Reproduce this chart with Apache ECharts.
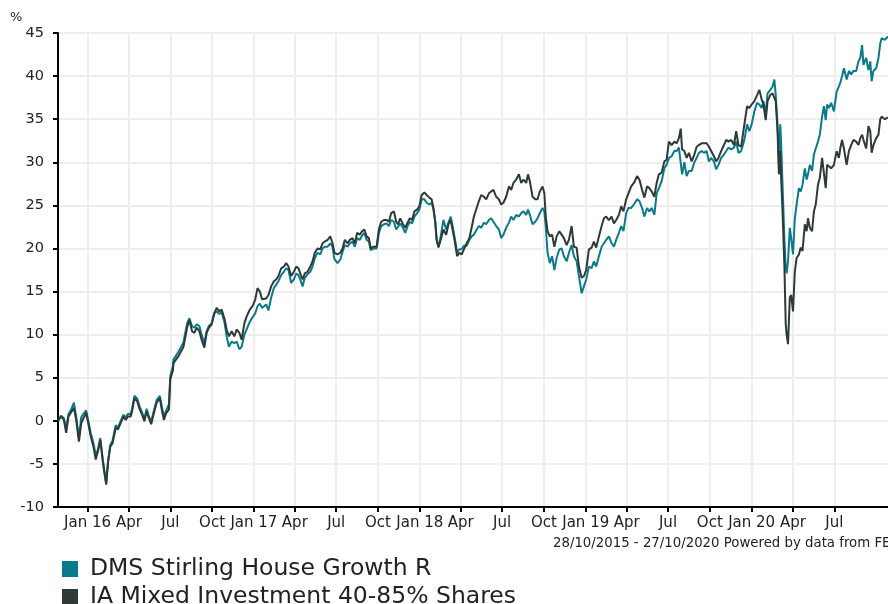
<!DOCTYPE html>
<html><head><meta charset="utf-8">
<script src="https://cdn.jsdelivr.net/npm/echarts@6/dist/echarts.min.js"></script>
<style>html,body{margin:0;padding:0;background:#fff}#c{width:888px;height:604px}</style>
</head><body><div id="c"></div>
<script>
const dates = [
'2015-10-28','2015-11-04','2015-11-10','2015-11-15','2015-11-20','2015-11-26','2015-12-02','2015-12-07','2015-12-13','2015-12-18','2015-12-23','2015-12-29',
'2016-01-03','2016-01-08','2016-01-14','2016-01-19','2016-01-24','2016-01-29','2016-02-03','2016-02-07','2016-02-11','2016-02-15','2016-02-20','2016-02-25',
'2016-03-03','2016-03-08','2016-03-14','2016-03-20','2016-03-25','2016-03-30','2016-04-05','2016-04-08','2016-04-13','2016-04-19','2016-04-25','2016-04-30',
'2016-05-05','2016-05-10','2016-05-15','2016-05-20','2016-05-26','2016-06-01','2016-06-08','2016-06-13','2016-06-17','2016-06-22','2016-06-28','2016-07-01','2016-07-07',
'2016-07-08','2016-07-19','2016-07-30','2016-08-07','2016-08-12','2016-08-18','2016-08-23','2016-08-28','2016-09-03','2016-09-08','2016-09-14','2016-09-19','2016-09-24','2016-09-30',
'2016-10-06','2016-10-11','2016-10-17','2016-10-22','2016-10-28','2016-11-02','2016-11-07','2016-11-13','2016-11-19','2016-11-24','2016-11-30','2016-12-05','2016-12-11','2016-12-16','2016-12-23','2016-12-30',
'2017-01-04','2017-01-09','2017-01-14','2017-01-19','2017-01-23','2017-01-28','2017-02-02','2017-02-08','2017-02-14','2017-02-19','2017-02-24','2017-03-02','2017-03-08','2017-03-13','2017-03-18','2017-03-24','2017-03-30',
'2017-04-04','2017-04-09','2017-04-13','2017-04-18','2017-04-23','2017-04-29','2017-05-05','2017-05-10','2017-05-15','2017-05-21','2017-05-27','2017-06-01','2017-06-06','2017-06-12','2017-06-18','2017-06-23','2017-06-27',
'2017-07-04','2017-07-10','2017-07-15','2017-07-20','2017-07-26','2017-07-31','2017-08-06','2017-08-11','2017-08-16','2017-08-22','2017-08-27','2017-09-01','2017-09-06','2017-09-11','2017-09-15','2017-09-20','2017-09-28',
'2017-10-03','2017-10-08','2017-10-14','2017-10-20','2017-10-25','2017-10-30','2017-11-05','2017-11-10','2017-11-14','2017-11-19','2017-11-25','2017-11-30','2017-12-05','2017-12-10','2017-12-15','2017-12-20','2017-12-26','2017-12-31',
'2018-01-05','2018-01-11','2018-01-16','2018-01-22','2018-01-27','2018-01-31','2018-02-04','2018-02-07','2018-02-11','2018-02-16','2018-02-22','2018-02-28','2018-03-05','2018-03-10','2018-03-14','2018-03-19','2018-03-24','2018-03-29',
'2018-04-03','2018-04-08','2018-04-14','2018-04-20','2018-04-25','2018-04-30','2018-05-06','2018-05-11','2018-05-16','2018-05-22','2018-05-27','2018-06-02','2018-06-07','2018-06-12','2018-06-18','2018-06-24','2018-06-29',
'2018-07-04','2018-07-10','2018-07-16','2018-07-21','2018-07-26','2018-08-01','2018-08-07','2018-08-12','2018-08-17','2018-08-23','2018-08-27','2018-08-31','2018-09-06','2018-09-12','2018-09-17','2018-09-22','2018-09-28','2018-10-02','2018-10-05','2018-10-09','2018-10-14',
'2018-10-19','2018-10-24','2018-10-29','2018-11-04','2018-11-09','2018-11-14','2018-11-20','2018-11-25','2018-12-01','2018-12-06','2018-12-12','2018-12-17','2018-12-23','2018-12-28',
'2019-01-02','2019-01-08','2019-01-14','2019-01-19','2019-01-24','2019-01-30','2019-02-05','2019-02-10','2019-02-15','2019-02-21','2019-02-27','2019-03-04','2019-03-09','2019-03-15','2019-03-20','2019-03-25','2019-03-31',
'2019-04-05','2019-04-11','2019-04-17','2019-04-24','2019-04-29','2019-05-05','2019-05-10','2019-05-16','2019-05-21','2019-05-26','2019-06-01','2019-06-06','2019-06-11','2019-06-17','2019-06-23','2019-06-28',
'2019-07-03','2019-07-09','2019-07-15','2019-07-20','2019-07-25','2019-07-29','2019-08-01','2019-08-06','2019-08-11','2019-08-16','2019-08-22','2019-08-28','2019-09-02','2019-09-07','2019-09-13','2019-09-18','2019-09-24','2019-09-29',
'2019-10-04','2019-10-10','2019-10-15','2019-10-20','2019-10-26','2019-11-01','2019-11-06','2019-11-11','2019-11-17','2019-11-23','2019-11-28','2019-12-03','2019-12-09',
'2019-12-16','2019-12-22','2019-12-27','2020-01-01','2020-01-07','2020-01-13','2020-01-18','2020-01-23','2020-01-27','2020-02-01','2020-02-05','2020-02-11','2020-02-16','2020-02-20','2020-02-23','2020-02-27',
'2020-03-01','2020-03-04','2020-03-06','2020-03-09','2020-03-13','2020-03-16','2020-03-18','2020-03-21','2020-03-25','2020-03-28','2020-04-01','2020-04-05','2020-04-09','2020-04-14','2020-04-18','2020-04-22','2020-04-27',
'2020-05-01','2020-05-04','2020-05-08','2020-05-13','2020-05-17','2020-05-21','2020-05-26','2020-05-30','2020-06-04','2020-06-08','2020-06-12','2020-06-15','2020-06-19','2020-06-24','2020-06-30',
'2020-07-06','2020-07-11','2020-07-14','2020-07-18','2020-07-22','2020-07-28','2020-08-02','2020-08-07','2020-08-12','2020-08-18','2020-08-23','2020-08-27','2020-08-31',
'2020-09-03','2020-09-09','2020-09-14','2020-09-18','2020-09-21','2020-09-25','2020-10-01','2020-10-06','2020-10-10','2020-10-13','2020-10-20','2020-10-27'
];

const dmsValues = [
0,0.6,0.3,-1.0,0.8,1.3,2.1,0.5,-2.0,0.4,0.8,1.2,
-0.1,-1.4,-2.6,-4.0,-3.3,-2.0,-4.2,-5.8,-7.2,-4.7,-2.8,-2.3,
-0.5,-0.8,0.0,0.7,0.4,0.8,0.8,1.4,2.9,2.6,1.6,1.0,
0.2,1.4,0.5,-0.1,1.2,2.4,2.9,1.5,0.5,1.2,1.9,5.2,6.4,
7.1,8.0,9.1,11.3,11.9,11.0,10.8,11.2,11.0,10.0,9.0,10.4,11.0,11.3,
12.5,12.7,12.4,12.6,11.5,9.8,8.6,9.2,9.0,9.2,8.3,8.6,10.0,10.6,11.5,12.1,
12.5,13.3,13.6,13.1,12.9,13.5,12.8,14.3,15.4,15.8,16.2,16.9,17.3,17.7,17.5,16.0,16.4,
17.1,16.9,16.4,15.6,16.6,17.0,17.3,17.9,18.9,19.5,19.3,20.0,20.2,20.2,20.6,20.2,18.8,
18.3,18.7,19.6,20.4,20.2,20.6,20.8,20.2,21.2,21.0,21.5,21.8,21.0,20.8,19.8,20.0,20.0,
21.8,22.6,22.8,22.9,22.6,23.3,23.1,22.2,22.0,22.9,22.4,21.8,22.6,23.1,22.9,23.7,24.1,24.5,
25.7,25.7,25.3,25.1,25.3,24.5,23.0,21.0,20.2,21.4,23.3,22.2,23.0,23.7,22.6,21.2,19.5,19.9,
19.9,20.3,20.3,21.0,21.4,21.6,22.2,22.6,22.4,23.0,22.8,23.3,23.5,23.1,22.6,22.2,21.2,
21.6,22.4,23.0,23.7,23.3,23.9,23.7,24.1,24.3,23.9,24.5,23.9,22.8,23.1,23.5,24.1,24.7,24.3,22.6,19.5,18.3,
19.1,17.5,18.9,19.9,20.0,19.1,18.5,19.5,20.4,19.1,18.5,16.8,14.8,15.6,
16.4,17.9,17.7,18.5,17.9,19.1,20.2,20.6,21.0,21.4,20.6,20.2,21.0,21.8,22.6,22.0,24.1,
24.7,24.7,25.1,25.7,25.5,24.7,23.7,24.7,24.3,24.7,23.9,26.4,27.0,27.8,29.3,29.7,
30.5,30.7,31.3,31.3,31.7,31.7,28.6,30.0,28.4,29.0,29.0,30.0,30.5,31.1,31.3,31.1,31.3,30.1,
30.5,30.1,29.2,29.7,30.5,30.9,31.3,31.7,31.5,31.7,32.4,31.1,31.3,
32.6,34.4,33.6,34.4,35.9,36.9,36.7,36.3,37.1,35.5,38.0,38.4,38.8,39.6,37.8,34.4,
29.7,34.4,32.0,27.4,21.2,17.7,17.1,18.5,22.4,21.2,19.3,23.5,25.1,27.0,26.6,27.4,29.3,
28.0,28.6,29.7,29.0,30.9,31.6,32.4,33.2,35.3,36.5,34.9,36.7,36.3,36.9,35.9,
38.2,38.8,39.2,40.0,40.9,39.6,40.6,40.2,40.6,40.6,41.7,42.1,43.6,
41.3,42.1,40.7,41.7,39.4,40.6,40.9,42.1,43.8,44.4,44.2,44.6
];

const iaValues = [
0,0.5,0.1,-1.4,0.5,1.0,1.5,0.1,-2.4,-0.3,0.3,0.9,
-0.4,-1.8,-3.0,-4.5,-3.5,-2.2,-4.5,-6.0,-7.4,-4.9,-3.0,-2.6,
-0.8,-1.0,-0.25,0.5,0.1,0.5,0.5,1.1,2.6,2.3,1.3,0.7,
-0.05,1.1,0.3,-0.4,0.9,2.1,2.6,1.1,0.1,0.9,1.3,4.8,5.9,
6.7,7.5,8.6,10.8,11.7,10.4,10.2,10.8,10.4,9.4,8.5,10.2,10.8,11.2,
12.5,13.1,12.7,12.9,11.9,10.6,9.8,10.4,9.8,10.6,10.2,9.4,11.3,12.1,12.9,13.4,
14.1,15.4,15.0,14.1,13.9,14.2,14.6,15.6,16.2,16.4,16.8,17.7,17.9,18.3,17.9,16.8,17.3,
17.9,17.7,17.1,16.4,17.1,17.3,17.9,18.5,19.5,20.0,19.9,20.6,20.8,21.0,21.4,20.6,19.5,
19.3,19.5,20.0,21.0,20.6,21.0,21.2,20.6,21.8,21.6,22.0,22.2,21.4,21.2,20.0,20.2,20.2,
22.2,23.1,23.3,23.3,23.1,24.1,24.3,23.1,22.8,23.5,22.8,22.4,23.0,23.5,23.3,24.3,24.5,24.9,
26.2,26.5,26.2,25.9,25.7,24.7,23.1,21.0,20.1,21.0,22.2,21.6,22.8,23.3,22.2,20.8,19.1,19.5,
19.3,19.9,20.6,21.2,22.4,23.7,24.7,25.5,26.2,26.0,25.7,26.4,26.6,26.8,26.0,25.7,25.1,
25.3,26.0,27.2,26.8,27.6,28.0,28.6,27.6,28.0,27.6,28.6,27.8,26.0,25.7,25.7,26.6,27.2,26.4,23.7,22.0,21.4,
21.6,20.2,21.4,22.0,21.6,21.2,20.4,21.0,22.6,20.2,20.1,17.9,16.6,16.8,
17.5,19.9,20.1,20.8,20.1,21.4,22.6,23.5,23.7,23.3,23.7,22.9,23.3,23.9,24.9,24.3,25.7,
26.4,27.2,27.6,28.4,28.0,26.8,25.9,27.2,27.0,26.6,26.0,27.6,28.6,28.8,30.1,30.3,
32.4,32.0,32.4,32.2,32.8,33.9,31.5,31.3,30.5,31.1,30.1,30.9,31.8,32.0,32.2,32.2,32.2,31.8,
31.3,30.7,30.1,30.5,31.3,32.0,32.6,32.4,32.6,32.0,33.6,32.0,31.8,
34.4,36.5,36.3,36.7,37.1,37.8,38.4,37.3,36.7,34.9,37.1,37.8,38.0,37.8,37.1,33.6,
28.6,31.3,28.0,24.3,18.1,11.2,10.0,8.9,14.3,14.6,12.7,17.3,18.9,19.3,20.1,19.7,22.8,
22.0,23.5,22.4,22.0,24.3,25.1,27.4,28.2,30.5,30.7,27.0,29.7,29.9,29.3,29.7,
31.3,30.5,31.6,32.6,31.6,29.7,31.3,32.0,32.6,32.4,32.0,32.8,33.2,
32.6,31.6,34.2,33.6,31.1,32.0,32.8,33.2,35.0,35.3,35.0,35.2
];

const seriesNames = ['DMS Stirling House Growth R', 'IA Mixed Investment 40-85% Shares'];
const seriesColors = ['#0a7a8b', '#2d3a38'];
const tickDates = ['2016-01-01','2016-04-01','2016-07-01','2016-10-01','2017-01-01','2017-04-01','2017-07-01','2017-10-01',
  '2018-01-01','2018-04-01','2018-07-01','2018-10-01','2019-01-01','2019-04-01','2019-07-01','2019-10-01',
  '2020-01-01','2020-04-01','2020-07-01'];
const tickLabels = ['Jan 16','Apr','Jul','Oct','Jan 17','Apr','Jul','Oct','Jan 18','Apr','Jul','Oct',
  'Jan 19','Apr','Jul','Oct','Jan 20','Apr','Jul'];
const dateRange = ['2015-10-28', '2020-10-27'];
const footerText = '28/10/2015 - 27/10/2020 Powered by data from FE';

// dates -> timestamps (UTC) for a numeric value axis
const ts = s => Date.parse(s + 'T00:00:00Z');
const tickValues = tickDates.map(ts);

function labelFor(v) {
  let best = '', bd = Infinity;
  tickValues.forEach((t, i) => { const dd = Math.abs(t - v); if (dd < bd) { bd = dd; best = tickLabels[i]; } });
  return best;
}

const FONT = 'DejaVu Sans';
const legendText = {fontSize: 23.5, color: '#222', fontFamily: FONT, padding: [0, 0, 0, 7]};
const chart = echarts.init(document.getElementById('c'), null, {renderer: 'canvas'});
chart.setOption({
  animation: false,
  backgroundColor: '#ffffff',
  textStyle: {fontFamily: FONT},
  grid: {left: 58, top: 33, width: 836, height: 474, containLabel: false},
  xAxis: {
    type: 'value',
    min: ts(dateRange[0]),
    max: ts(dateRange[1]),
    axisLine: {show: true, onZero: false, lineStyle: {color: '#000', width: 2}},
    axisTick: {show: true, length: 5, lineStyle: {color: '#000', width: 2}, customValues: tickValues},
    axisLabel: {
      customValues: tickValues,
      color: '#222', fontSize: 15, fontFamily: FONT, margin: 9, hideOverlap: false,
      formatter: labelFor
    },
    splitLine: {show: true, lineStyle: {color: '#eeeeee', width: 2}}
  },
  yAxis: {
    type: 'value',
    min: -10, max: 45, interval: 5,
    axisLine: {show: true, onZero: false, lineStyle: {color: '#000', width: 2}},
    axisTick: {show: true, length: 5, lineStyle: {color: '#000', width: 2}},
    axisLabel: {color: '#222', fontSize: 14.5, fontFamily: FONT, margin: 14},
    splitLine: {show: true, lineStyle: {color: '#eeeeee', width: 2}}
  },
  legend: [
    {orient: 'horizontal', left: 57, top: 552, itemWidth: 16, itemHeight: 16, icon: 'rect',
     textStyle: legendText, data: [seriesNames[0]]},
    {orient: 'horizontal', left: 57, top: 580, itemWidth: 16, itemHeight: 16, icon: 'rect',
     textStyle: legendText, data: [seriesNames[1]]}
  ],
  graphic: [
    {type: 'text', left: 10, top: 11, style: {text: '%', fontSize: 13, fill: '#222', fontFamily: FONT}},
    {type: 'text', left: 553, top: 537, style: {text: footerText, fontSize: 13.3, fill: '#222', fontFamily: FONT}}
  ],
  series: [
    {name: seriesNames[0], type: 'line', showSymbol: false, symbol: 'none', color: seriesColors[0],
     lineStyle: {width: 2, color: seriesColors[0]},
     data: dates.map((d, i) => [ts(d), dmsValues[i]])},
    {name: seriesNames[1], type: 'line', showSymbol: false, symbol: 'none', color: seriesColors[1],
     lineStyle: {width: 2, color: seriesColors[1]},
     data: dates.map((d, i) => [ts(d), iaValues[i]])}
  ]
});
</script></body></html>
